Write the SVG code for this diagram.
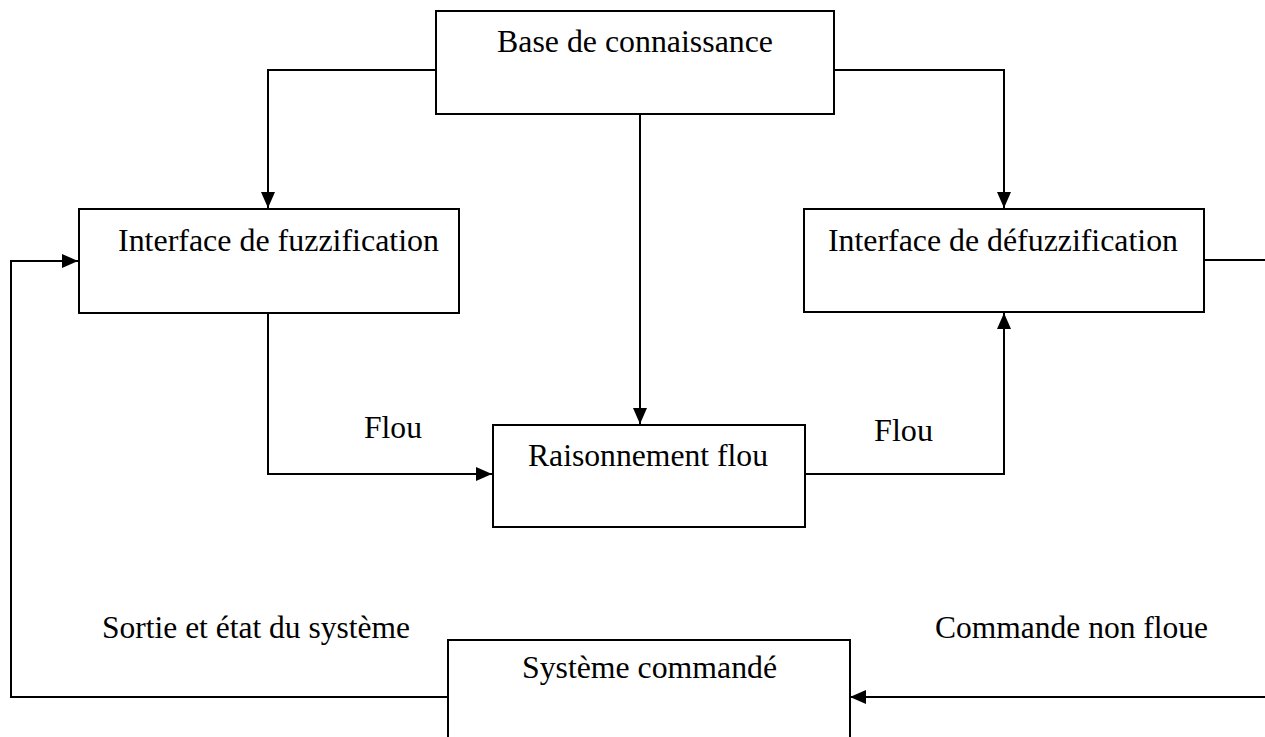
<svg xmlns="http://www.w3.org/2000/svg" width="1265" height="737" viewBox="0 0 1265 737">
  <style>
    .box { fill: #fff; stroke: #000; stroke-width: 2; }
    text { font-family: 'Liberation Serif', Tinos, 'Noto Serif', 'DejaVu Serif', 'Times New Roman', serif; font-size: 32px; fill: #000; }
    .wire { fill: none; stroke: #000; stroke-width: 2; }
  </style>
  <defs>
    <marker id="arrow" viewBox="0 0 16 14" refX="16" refY="7" markerWidth="16" markerHeight="14" markerUnits="userSpaceOnUse" orient="auto">
      <path d="M0,0 L16,7 L0,14 Z" fill="#000"/>
    </marker>
  </defs>
  <rect width="1265" height="737" fill="#fff"/>

  <g id="connectors">
    <!-- knowledge base to fuzzification -->
    <path class="wire" d="M436,70 H268 V208" marker-end="url(#arrow)"/>
    <!-- knowledge base to defuzzification -->
    <path class="wire" d="M834,70 H1004 V208" marker-end="url(#arrow)"/>
    <!-- knowledge base to inference -->
    <path class="wire" d="M640,114 V424" marker-end="url(#arrow)"/>
    <!-- fuzzification to inference -->
    <path class="wire" d="M268,313 V474 H492" marker-end="url(#arrow)"/>
    <!-- inference to defuzzification -->
    <path class="wire" d="M805,474 H1004 V313" marker-end="url(#arrow)"/>
    <!-- defuzzification output -->
    <path class="wire" d="M1204,260 H1265"/>
    <!-- control command into plant -->
    <path class="wire" d="M1265,697 H850" marker-end="url(#arrow)"/>
    <!-- plant feedback to fuzzification -->
    <path class="wire" d="M448,697 H11 V261 H78" marker-end="url(#arrow)"/>
  </g>

  <g id="base">
    <rect class="box" x="436" y="11" width="398" height="103"/>
    <text x="497" y="52" textLength="276" lengthAdjust="spacingAndGlyphs">Base de connaissance</text>
  </g>

  <g id="fuzzification">
    <rect class="box" x="79" y="209" width="380" height="104"/>
    <text x="118" y="251" textLength="321" lengthAdjust="spacingAndGlyphs">Interface de fuzzification</text>
  </g>

  <g id="defuzzification">
    <rect class="box" x="804" y="209" width="400" height="103"/>
    <text x="828" y="251" textLength="350" lengthAdjust="spacingAndGlyphs">Interface de défuzzification</text>
  </g>

  <g id="inference">
    <rect class="box" x="493" y="425" width="312" height="102"/>
    <text x="528" y="466" textLength="240" lengthAdjust="spacingAndGlyphs">Raisonnement flou</text>
  </g>

  <g id="plant">
    <rect class="box" x="448" y="640" width="402" height="110"/>
    <text x="522" y="678" textLength="255" lengthAdjust="spacingAndGlyphs">Système commandé</text>
  </g>

  <g id="labels">
    <text x="364" y="438" textLength="58" lengthAdjust="spacingAndGlyphs">Flou</text>
    <text x="874" y="441" textLength="59" lengthAdjust="spacingAndGlyphs">Flou</text>
    <text x="102" y="638" textLength="308" lengthAdjust="spacingAndGlyphs">Sortie et état du système</text>
    <text x="935" y="638" textLength="273" lengthAdjust="spacingAndGlyphs">Commande non floue</text>
  </g>
</svg>
